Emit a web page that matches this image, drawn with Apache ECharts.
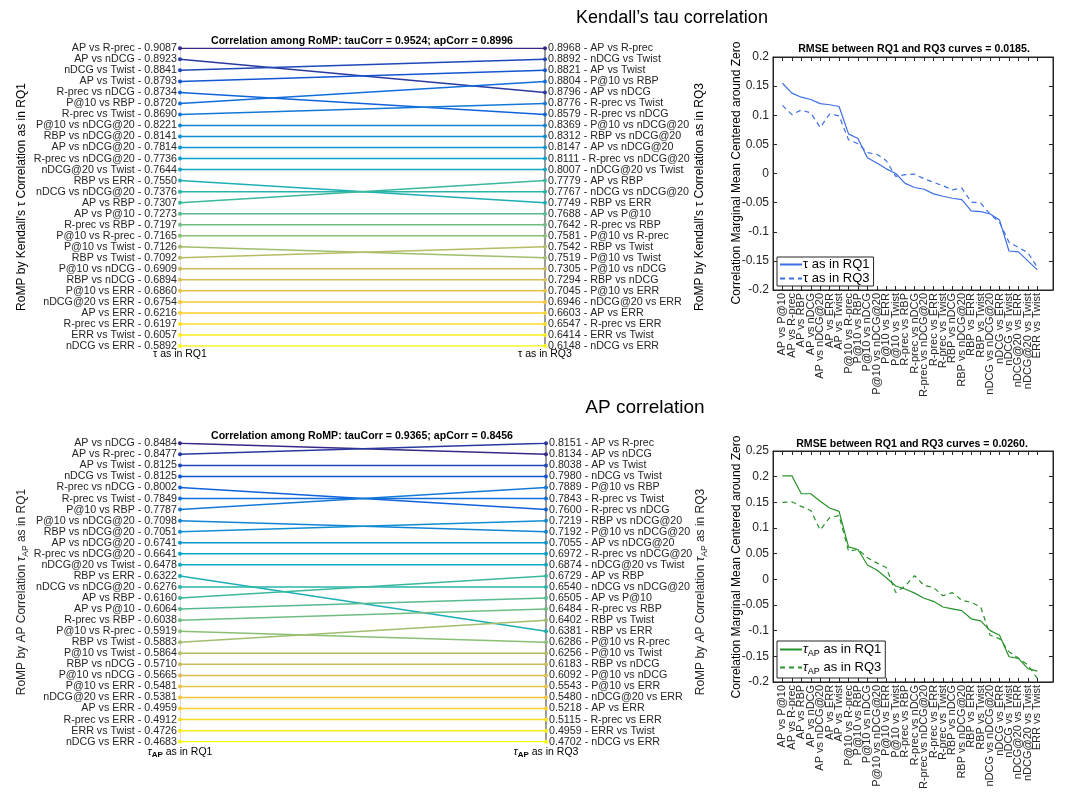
<!DOCTYPE html>
<html style="height: 100%;">
<head>
<meta charset="utf-8">
<title>RoMP correlations</title>
<script src="https://cdn.jsdelivr.net/npm/echarts@6/dist/echarts.min.js"></script>
</head>
<body style="height: 100%; margin: 0; background: #fff;">
<div id="container" style="width: 1068px; height: 792px;"></div>
<script type="text/javascript">
// ---- data: Kendall's tau, RQ1 order (left) ----
var tauRq1Pairs = ['AP vs R-prec','AP vs nDCG','nDCG vs Twist','AP vs Twist','R-prec vs nDCG','P@10 vs RBP','R-prec vs Twist',
  'P@10 vs nDCG@20','RBP vs nDCG@20','AP vs nDCG@20','R-prec vs nDCG@20','nDCG@20 vs Twist','RBP vs ERR','nDCG vs nDCG@20',
  'AP vs RBP','AP vs P@10','R-prec vs RBP','P@10 vs R-prec','P@10 vs Twist','RBP vs Twist','P@10 vs nDCG','RBP vs nDCG',
  'P@10 vs ERR','nDCG@20 vs ERR','AP vs ERR','R-prec vs ERR','ERR vs Twist','nDCG vs ERR'];
var tauRq1Vals = [0.9087,0.8923,0.8841,0.8793,0.8734,0.8720,0.8690,0.8221,0.8141,0.7814,0.7736,0.7644,0.7550,0.7376,
  0.7307,0.7273,0.7197,0.7165,0.7126,0.7092,0.6909,0.6894,0.6860,0.6754,0.6216,0.6197,0.6057,0.5892];
// ---- Kendall's tau, RQ3 order (right) ----
var tauRq3Pairs = ['AP vs R-prec','nDCG vs Twist','AP vs Twist','P@10 vs RBP','AP vs nDCG','R-prec vs Twist','R-prec vs nDCG',
  'P@10 vs nDCG@20','RBP vs nDCG@20','AP vs nDCG@20','R-prec vs nDCG@20','nDCG@20 vs Twist','AP vs RBP','nDCG vs nDCG@20',
  'RBP vs ERR','AP vs P@10','R-prec vs RBP','P@10 vs R-prec','RBP vs Twist','P@10 vs Twist','P@10 vs nDCG','RBP vs nDCG',
  'P@10 vs ERR','nDCG@20 vs ERR','AP vs ERR','R-prec vs ERR','ERR vs Twist','nDCG vs ERR'];
var tauRq3Vals = [0.8968,0.8892,0.8821,0.8804,0.8796,0.8776,0.8579,0.8369,0.8312,0.8147,0.8111,0.8007,0.7779,0.7767,
  0.7749,0.7688,0.7642,0.7581,0.7542,0.7519,0.7305,0.7294,0.7045,0.6946,0.6603,0.6547,0.6414,0.6148];
// ---- AP correlation, RQ1 order ----
var apRq1Pairs = ['AP vs nDCG','AP vs R-prec','AP vs Twist','nDCG vs Twist','R-prec vs nDCG','R-prec vs Twist','P@10 vs RBP',
  'P@10 vs nDCG@20','RBP vs nDCG@20','AP vs nDCG@20','R-prec vs nDCG@20','nDCG@20 vs Twist','RBP vs ERR','nDCG vs nDCG@20',
  'AP vs RBP','AP vs P@10','R-prec vs RBP','P@10 vs R-prec','RBP vs Twist','P@10 vs Twist','RBP vs nDCG','P@10 vs nDCG',
  'P@10 vs ERR','nDCG@20 vs ERR','AP vs ERR','R-prec vs ERR','ERR vs Twist','nDCG vs ERR'];
var apRq1Vals = [0.8484,0.8477,0.8125,0.8125,0.8002,0.7849,0.7787,0.7098,0.7051,0.6741,0.6641,0.6478,0.6322,0.6276,
  0.6160,0.6064,0.6038,0.5919,0.5883,0.5864,0.5710,0.5665,0.5481,0.5381,0.4959,0.4912,0.4726,0.4683];
// ---- AP correlation, RQ3 order ----
var apRq3Pairs = ['AP vs R-prec','AP vs nDCG','AP vs Twist','nDCG vs Twist','P@10 vs RBP','R-prec vs Twist','R-prec vs nDCG',
  'RBP vs nDCG@20','P@10 vs nDCG@20','AP vs nDCG@20','R-prec vs nDCG@20','nDCG@20 vs Twist','AP vs RBP','nDCG vs nDCG@20',
  'AP vs P@10','R-prec vs RBP','RBP vs Twist','RBP vs ERR','P@10 vs R-prec','P@10 vs Twist','RBP vs nDCG','P@10 vs nDCG',
  'P@10 vs ERR','nDCG@20 vs ERR','AP vs ERR','R-prec vs ERR','ERR vs Twist','nDCG vs ERR'];
var apRq3Vals = [0.8151,0.8134,0.8038,0.7980,0.7889,0.7843,0.7600,0.7219,0.7192,0.7055,0.6972,0.6874,0.6729,0.6540,
  0.6505,0.6484,0.6402,0.6381,0.6286,0.6256,0.6183,0.6092,0.5543,0.5480,0.5218,0.5115,0.4959,0.4702];

// ---- marginal mean curves ----
var curvePairs = ['AP vs P@10','AP vs R-prec','AP vs RBP','AP vs nDCG','AP vs nDCG@20','AP vs ERR','AP vs Twist',
  'P@10 vs R-prec','P@10 vs RBP','P@10 vs nDCG','P@10 vs nDCG@20','P@10 vs ERR','P@10 vs Twist','R-prec vs RBP',
  'R-prec vs nDCG','R-prec vs nDCG@20','R-prec vs ERR','R-prec vs Twist','RBP vs nDCG','RBP vs nDCG@20','RBP vs ERR',
  'RBP vs Twist','nDCG vs nDCG@20','nDCG vs ERR','nDCG vs Twist','nDCG@20 vs ERR','nDCG@20 vs Twist','ERR vs Twist'];
var tauCurveRq1 = [0.155,0.138,0.131,0.127,0.120,0.118,0.115,0.068,0.060,0.027,0.018,0.008,0.000,-0.017,
  -0.024,-0.027,-0.035,-0.039,-0.0425,-0.045,-0.064,-0.0655,-0.0695,-0.080,-0.133,-0.1345,-0.150,-0.1655];
var tauCurveRq3 = [0.117,0.101,0.109,0.104,0.079,0.102,0.099,0.058,0.051,0.036,0.033,0.022,-0.005,-0.002,
  -0.001,-0.009,-0.015,-0.021,-0.028,-0.025,-0.049,-0.051,-0.070,-0.084,-0.118,-0.127,-0.136,-0.161];
var apCurveRq1 = [0.2016,0.2016,0.1667,0.1667,0.152,0.139,0.1324,0.0633,0.058,0.0278,0.018,0.003,-0.013,-0.019,
  -0.027,-0.037,-0.043,-0.054,-0.0575,-0.061,-0.077,-0.081,-0.100,-0.109,-0.151,-0.154,-0.174,-0.179];
var apCurveRq3 = [0.150,0.151,0.142,0.134,0.096,0.120,0.124,0.055,0.058,0.042,0.032,0.023,-0.026,-0.013,
  0.007,-0.012,-0.016,-0.032,-0.026,-0.041,-0.045,-0.054,-0.109,-0.116,-0.141,-0.154,-0.167,-0.193];

var FONT = 'Liberation Sans';
var INK = '#262626';

// parula-like colour ramp
var parula = ['#352a87','#0f5cdd','#1481d6','#06a4ca','#2eb7a4','#87bf77','#d1bb59','#fec832','#f9fb0e'];
function hex2rgb(h){ return [parseInt(h.substr(1,2),16),parseInt(h.substr(3,2),16),parseInt(h.substr(5,2),16)]; }
function parulaAt(t){
  var p = t*(parula.length-1);
  var i = Math.min(Math.floor(p), parula.length-2);
  var f = p-i, a = hex2rgb(parula[i]), b = hex2rgb(parula[i+1]);
  return 'rgb(' + [0,1,2].map(function(k){ return Math.round(a[k]+(b[k]-a[k])*f); }).join(',') + ')';
}

var ticks28 = [], oddTicks = [], evenTicks = [];
for (var k = 1; k <= 28; k++) { ticks28.push(k); (k % 2 ? oddTicks : evenTicks).push(k); }

function slopeSeries(tag, leftPairs, rightPairs, xi, yi){
  return leftPairs.map(function(p, i){
    var c = parulaAt(i/27);
    return {
      name: tag + i, type: 'line', xAxisIndex: xi, yAxisIndex: yi, silent: true,
      data: [[0, i+1], [1, rightPairs.indexOf(p)+1]],
      symbol: 'circle', symbolSize: 4, lineStyle: {width: 1.5, color: c}, itemStyle: {color: c}
    };
  });
}

function rankAxis(grid, pos, labels){
  return {
    type: 'value', gridIndex: grid, position: pos, min: 1, max: 28, interval: 1, inverse: true,
    axisLine: {show: true, onZero: false, lineStyle: {color: pos === 'left' ? '#d9d9d9' : '#7a7a7a', width: pos === 'left' ? 1 : 1.5}},
    axisTick: {show: false}, splitLine: {show: false},
    axisLabel: {margin: 3, fontSize: 10.7, fontFamily: FONT, color: INK,
      formatter: function(v){ return labels[v-1] || ''; }}
  };
}

var subRich = {
  t: {fontSize: 11, fontFamily: FONT, color: '#000', fontStyle: 'italic'},
  s: {fontSize: 8, fontFamily: FONT, color: '#000', fontWeight: 'bold', padding: [6,0,0,0]},
  n: {fontSize: 10.5, fontFamily: FONT, color: '#000'}
};

function slopeXAxis(grid, l0, l1, rich){
  return {
    type: 'value', gridIndex: grid, min: 0, max: 1, interval: 1,
    axisLine: {show: false, onZero: false}, axisTick: {show: false}, splitLine: {show: false},
    axisLabel: {margin: 3, fontSize: 10.5, fontFamily: FONT, color: '#000', rich: rich,
      formatter: function(v){ return v === 0 ? l0 : l1; }}
  };
}

// kind: 'main' (line + ticks + odd labels), 'even' (even labels only), 'top' (mirror ticks)
function curveXAxis(grid, kind){
  var labelVals = kind === 'main' ? oddTicks : evenTicks;
  return {
    type: 'value', gridIndex: grid, position: kind === 'top' ? 'top' : 'bottom', offset: 0,
    min: 0, max: 29.66, interval: 1,
    axisLine: {show: kind !== 'even', onZero: false, lineStyle: {color: INK}},
    axisTick: {show: kind !== 'even', inside: true, length: 4, customValues: ticks28, lineStyle: {color: INK}},
    splitLine: {show: false},
    axisLabel: kind === 'top' ? {show: false} : {
      rotate: 90, margin: 3, fontSize: 11, fontFamily: FONT, color: INK, customValues: labelVals,
      showMinLabel: true, showMaxLabel: true, hideOverlap: false,
      formatter: function(v){ return curvePairs[Math.round(v)-1] || ''; }}
  };
}

function curveYAxis(grid, pos, min, max){
  return {
    type: 'value', gridIndex: grid, position: pos, min: min, max: max, interval: 0.05,
    axisLine: {show: true, onZero: false, lineStyle: {color: INK}},
    axisTick: {show: true, inside: true, length: 4, lineStyle: {color: INK}},
    splitLine: {show: false},
    axisLabel: pos === 'right' ? {show: false} : {
      margin: 4, fontSize: 12, fontFamily: FONT, color: INK, showMinLabel: true, showMaxLabel: true,
      formatter: function(v){ return String(+v.toFixed(2)); }}
  };
}

function curve(name, vals, xi, yi, color, dashed){
  return {
    name: name, type: 'line', xAxisIndex: xi, yAxisIndex: yi, symbol: 'none',
    data: vals.map(function(v, i){ return [i+1, v]; }),
    lineStyle: {width: 1.2, color: color, type: dashed ? [5,4] : 'solid'}, itemStyle: {color: color}
  };
}

var tauLeftLabels = tauRq1Pairs.map(function(p,i){ return p + ' - ' + tauRq1Vals[i].toFixed(4); });
var tauRightLabels = tauRq3Pairs.map(function(p,i){ return tauRq3Vals[i].toFixed(4) + ' - ' + p; });
var apLeftLabels = apRq1Pairs.map(function(p,i){ return p + ' - ' + apRq1Vals[i].toFixed(4); });
var apRightLabels = apRq3Pairs.map(function(p,i){ return apRq3Vals[i].toFixed(4) + ' - ' + p; });

var BLUE = '#3d6fe6', GREEN = '#27922a';

function txt(x, y, text, size, weight, rot, rich){
  return {type: 'text', x: x, y: y, rotation: rot || 0, silent: true,
    style: {text: text, fontSize: size, fontFamily: FONT, fontWeight: weight || 'normal', fill: '#000',
      align: 'center', verticalAlign: 'middle', textAlign: 'center', textVerticalAlign: 'middle', rich: rich}};
}

var nameRich = {
  t: {fontSize: 12, fontFamily: FONT, fill: INK, color: INK, fontStyle: 'italic'},
  s: {fontSize: 8.5, fontFamily: FONT, fill: INK, color: INK, padding: [7,0,0,0]},
  n: {fontSize: 12, fontFamily: FONT, fill: INK, color: INK}
};

var dom = document.getElementById('container');
var myChart = echarts.init(dom, null, {renderer: 'canvas'});
var option = {
  animation: false,
  backgroundColor: '#fff',
  textStyle: {fontFamily: FONT},
  grid: [
    {left: 180, top: 48.3, width: 365, height: 297.7},
    {left: 773, top: 57, width: 280, height: 233, show: true, borderColor: INK, borderWidth: 1, backgroundColor: '#fff'},
    {left: 180, top: 443.3, width: 366, height: 298.4},
    {left: 773, top: 451, width: 280, height: 232, show: true, borderColor: INK, borderWidth: 1, backgroundColor: '#fff'}
  ],
  xAxis: [
    slopeXAxis(0, 'τ as in RQ1', 'τ as in RQ3'),                                         // 0
    curveXAxis(1, 'main'),                                                                 // 1
    curveXAxis(1, 'even'),                                                                 // 2
    curveXAxis(1, 'top'),                                                                  // 3
    slopeXAxis(2, '{t|τ}{s|AP}{n| as in RQ1}', '{t|τ}{s|AP}{n| as in RQ3}', subRich),    // 4
    curveXAxis(3, 'main'),                                                                 // 5
    curveXAxis(3, 'even'),                                                                 // 6
    curveXAxis(3, 'top')                                                                   // 7
  ],
  yAxis: [
    rankAxis(0, 'left', tauLeftLabels),
    rankAxis(0, 'right', tauRightLabels),
    curveYAxis(1, 'left', -0.2, 0.2),
    curveYAxis(1, 'right', -0.2, 0.2),
    rankAxis(2, 'left', apLeftLabels),
    rankAxis(2, 'right', apRightLabels),
    curveYAxis(3, 'left', -0.2, 0.25),
    curveYAxis(3, 'right', -0.2, 0.25)
  ],
  legend: [
    {data: ['τ as in RQ1', 'τ as in RQ3'], orient: 'vertical', left: 777, top: 257,
      padding: [1,4,1,2], itemGap: 1, itemWidth: 22, itemHeight: 12, borderColor: INK, borderWidth: 1,
      backgroundColor: '#fff', selectedMode: false, itemStyle: {opacity: 0},
      textStyle: {fontSize: 13, fontFamily: FONT, color: '#000', padding: [0,0,0,-4]}},
    {data: ['τAP as in RQ1', 'τAP as in RQ3'], orient: 'vertical', left: 777, top: 641,
      padding: [2,4,2,2], itemGap: 3, itemWidth: 22, itemHeight: 14, borderColor: INK, borderWidth: 1,
      backgroundColor: '#fff', selectedMode: false, itemStyle: {opacity: 0},
      formatter: function(n){ return '{t|τ}{s|AP}{n|' + n.slice(3) + '}'; },
      textStyle: {fontSize: 13, fontFamily: FONT, color: '#000', padding: [0,0,0,-4],
        rich: {t: {fontSize: 13, fontStyle: 'italic', fontFamily: FONT},
               s: {fontSize: 9, fontFamily: FONT, padding: [8,0,0,0]},
               n: {fontSize: 13, fontFamily: FONT}}}}
  ],
  graphic: [
    txt(672, 18, 'Kendall’s tau correlation', 18),
    txt(645, 408, 'AP correlation', 19),
    txt(362, 41, 'Correlation among RoMP: tauCorr = 0.9524; apCorr = 0.8996', 10.6, 'bold'),
    txt(362, 436, 'Correlation among RoMP: tauCorr = 0.9365; apCorr = 0.8456', 10.6, 'bold'),
    txt(914, 49, 'RMSE between RQ1 and RQ3 curves = 0.0185.', 10.6, 'bold'),
    txt(912, 444, 'RMSE between RQ1 and RQ3 curves = 0.0260.', 10.6, 'bold'),
    txt(22, 197, 'RoMP by Kendall\'s τ Correlation as in RQ1', 12, 'normal', Math.PI/2),
    txt(700, 197, 'RoMP by Kendall\'s τ Correlation as in RQ3', 12, 'normal', Math.PI/2),
    txt(737, 173, 'Correlation Marginal Mean Centered around Zero', 12, 'normal', Math.PI/2),
    txt(22, 592, '{n|RoMP by AP Correlation }{t|τ}{s|AP}{n| as in RQ1}', 12, 'normal', Math.PI/2, nameRich),
    txt(701, 592, '{n|RoMP by AP Correlation }{t|τ}{s|AP}{n| as in RQ3}', 12, 'normal', Math.PI/2, nameRich),
    txt(737, 567, 'Correlation Marginal Mean Centered around Zero', 12, 'normal', Math.PI/2)
  ],
  series: [].concat(
    slopeSeries('tau', tauRq1Pairs, tauRq3Pairs, 0, 0),
    slopeSeries('ap', apRq1Pairs, apRq3Pairs, 4, 4),
    [curve('τ as in RQ1', tauCurveRq1, 1, 2, BLUE, false),
     curve('τ as in RQ3', tauCurveRq3, 1, 2, BLUE, true),
     curve('τAP as in RQ1', apCurveRq1, 5, 6, GREEN, false),
     curve('τAP as in RQ3', apCurveRq3, 5, 6, GREEN, true)]
  )
};
myChart.setOption(option);
window.onresize = function(){ myChart.resize(); };
</script>
</body>
</html>
